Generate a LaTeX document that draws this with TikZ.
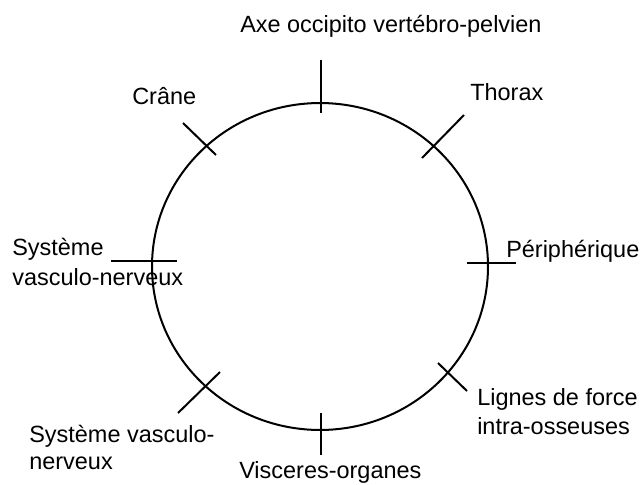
\documentclass[tikz,border=0pt]{standalone}
\usepackage{fontspec}
\setmainfont{Liberation Sans}
\usetikzlibrary{positioning}

\begin{document}
\begin{tikzpicture}[x=0.75pt, y=-0.75pt,
  lbl/.style={font=\fontsize{17.6}{21}\selectfont, inner sep=0pt,
    anchor=base west},
  ring/.style={draw=black, line width=1.5pt},
  tick/.style={draw=black, line width=1.5pt},
]
\useasboundingbox (0,0) rectangle (643,485);
% ring
\coordinate (c) at (320,266.5);
\draw[ring] (c) ellipse [x radius=126pt, y radius=122.6pt];
% tick ends (outer, inner)
\coordinate (axeO) at (321,60);   \coordinate (axeI) at (321,113);
\coordinate (thoO) at (464,115);  \coordinate (thoI) at (422,158);
\coordinate (perO) at (516,263);  \coordinate (perI) at (467,263);
\coordinate (ligO) at (467,391);  \coordinate (ligI) at (438,363);
\coordinate (visO) at (321,455);  \coordinate (visI) at (321,413);
\coordinate (svbO) at (178,413);  \coordinate (svbI) at (220,372);
\coordinate (svlO) at (111,261);  \coordinate (svlI) at (177,261);
\coordinate (craO) at (183,123);  \coordinate (craI) at (216,155);
\draw[tick] (axeO) -- (axeI);
\draw[tick] (thoO) -- (thoI);
\draw[tick] (perO) -- (perI);
\draw[tick] (ligO) -- (ligI);
\draw[tick] (visO) -- (visI);
\draw[tick] (svbO) -- (svbI);
\draw[tick] (svlO) -- (svlI);
\draw[tick] (craO) -- (craI);
% labels
\node[lbl] (axe) at (240,33) {Axe occipito vertébro-pelvien};
\node[lbl] (tho) at (470,101) {Thorax};
\node[lbl] (per) at (506,257) {Périphérique};
\node[lbl] (lig1) at (477,405) {Lignes de force};
\node[lbl] (lig2) at (477,434) {intra-osseuses};
\node[lbl] (vis) at (239,478) {Visceres-organes};
\node[lbl] (svb1) at (29,442) {Système vasculo-};
\node[lbl] (svb2) at (29,469) {nerveux};
\node[lbl] (svl1) at (12,255) {Système};
\node[lbl] (svl2) at (12,285) {vasculo-nerveux};
\node[lbl] (cra) at (132,104) {Crâne};
\end{tikzpicture}
\end{document}
